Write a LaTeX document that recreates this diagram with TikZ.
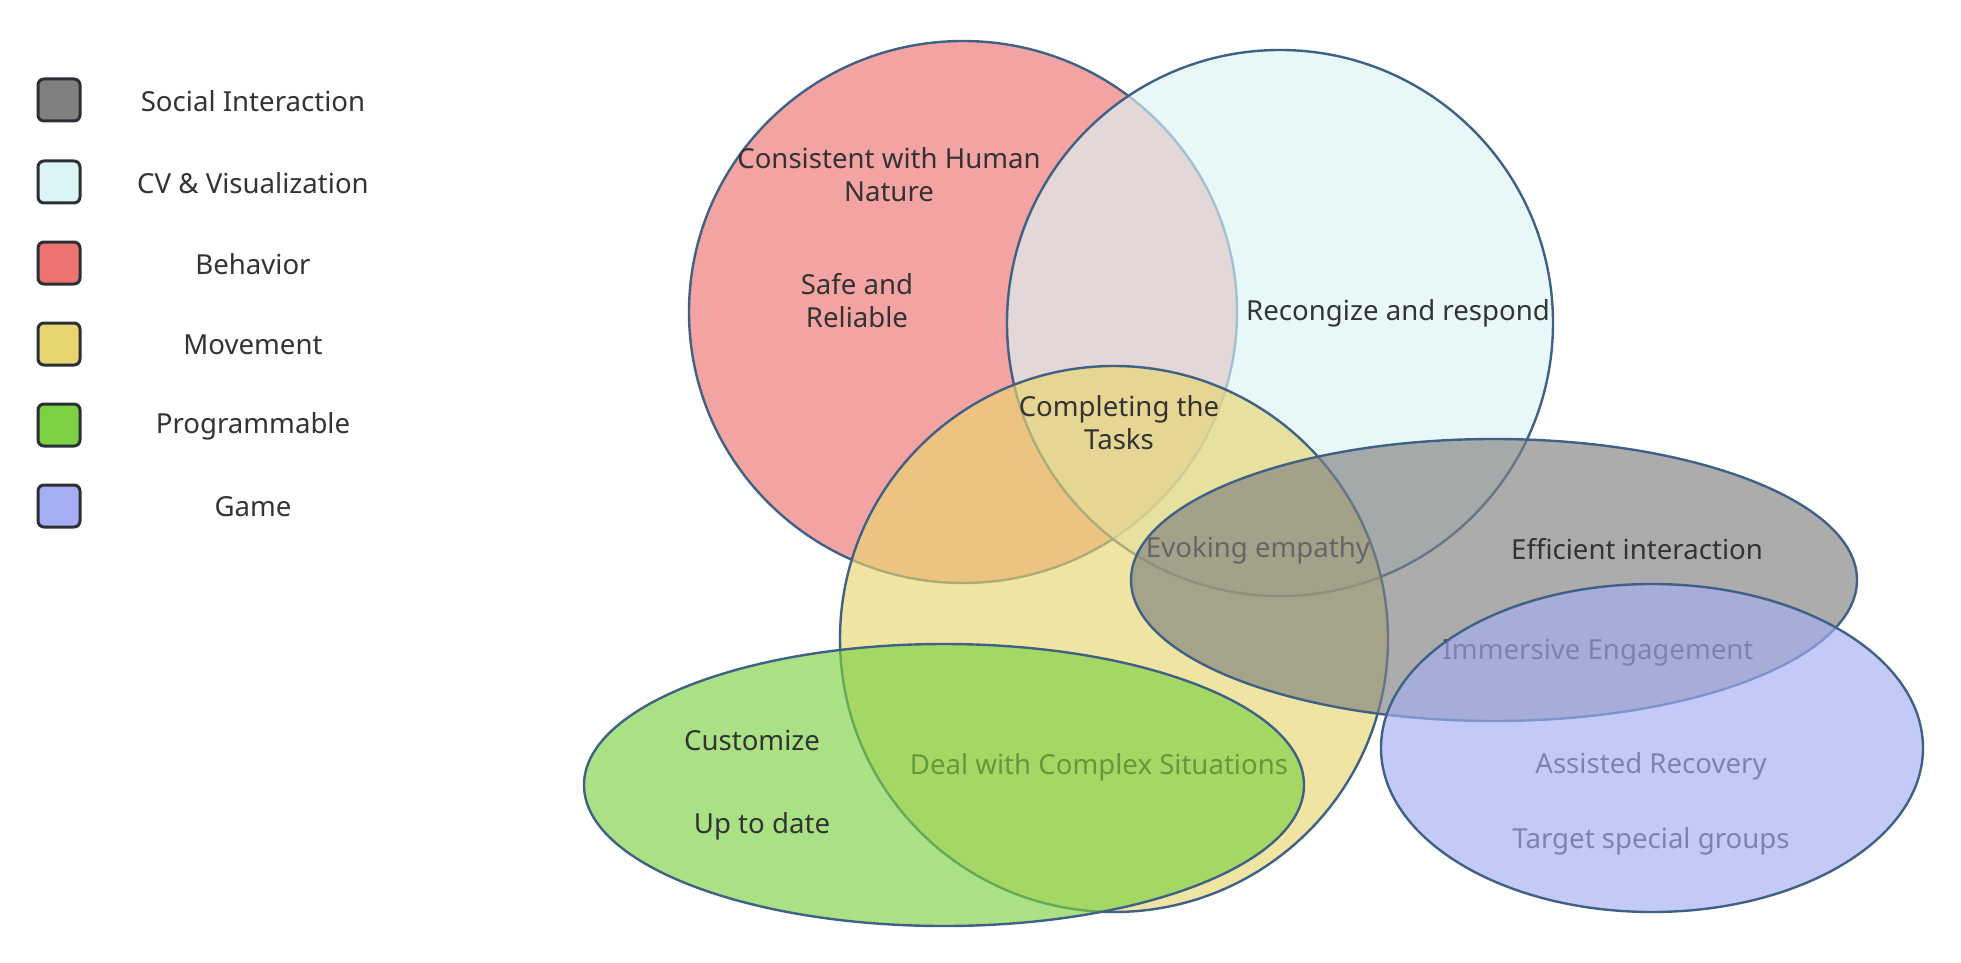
\documentclass[tikz,border=0pt]{standalone}
\usepackage{fontspec}
\setmainfont{Noto Sans}
\usetikzlibrary{shapes.geometric}
\definecolor{social}{HTML}{808080}
\definecolor{cvvis}{HTML}{DBF4F6}
\definecolor{behav}{HTML}{EC7370}
\definecolor{movem}{HTML}{E8D570}
\definecolor{progr}{HTML}{7CD143}
\definecolor{gamec}{HTML}{A5AEF2}
\definecolor{rim}{HTML}{3F6186}
\definecolor{keyrim}{HTML}{2A2F36}
\definecolor{ink}{HTML}{333333}
\begin{document}
\begin{tikzpicture}[x=0.5pt,y=-0.5pt,
	blob/.style={ellipse, draw=rim, line width=1.2pt, fill opacity=0.65, inner sep=0pt},
	key/.style={rectangle, rounded corners=3pt, draw=keyrim, line width=1.5pt, minimum size=21pt, inner sep=0pt},
	lbl/.style={text=ink, font=\fontsize{13.8}{16.5}\selectfont, align=center, inner sep=0pt}]
	\useasboundingbox (0,0) rectangle (1961,963);
	% legend
	\node (kSoc)  at (59, 100)	[key, fill = social]	{};
	\node (kCv)   at (59, 182)	[key, fill = cvvis]	{};
	\node (kBeh)  at (59, 263)	[key, fill = behav]	{};
	\node (kMov)  at (59, 344)	[key, fill = movem]	{};
	\node (kPro)  at (59, 425)	[key, fill = progr]	{};
	\node (kGam)  at (59, 506)	[key, fill = gamec]	{};
	\node (tSoc)  at (253, 101)	[lbl]	{Social Interaction};
	\node (tCv)   at (253, 183)	[lbl]	{CV \& Visualization};
	\node (tBeh)  at (253, 264)	[lbl]	{Behavior};
	\node (tMov)  at (253, 345)	[lbl]	{Movement};
	\node (tPro)  at (253, 426)	[lbl]	{Programmable};
	\node (tGam)  at (253, 507)	[lbl]	{Game};
	% sets
	\node (Beh) at (963, 312)	[blob, fill = behav, minimum width = 274pt, minimum height = 271pt]	{};
	\node (b1)  at (889, 175)	[lbl]	{Consistent with Human\\Nature};
	\node (b2)  at (857, 301)	[lbl]	{Safe and\\Reliable};
	\node (Cv)  at (1280, 323)	[blob, fill = cvvis, minimum width = 273pt, minimum height = 273pt]	{};
	\node (c1)  at (1398, 313)	[lbl]	{Recongize and respond};
	\node (Mov) at (1114, 639)	[blob, fill = movem, minimum width = 274pt, minimum height = 273pt]	{};
	\node (m1)  at (1119, 423)	[lbl]	{Completing the\\Tasks};
	\node (m2)  at (1258, 550)	[lbl]	{Evoking empathy};
	\node (m3)  at (1099, 767)	[lbl]	{Deal with Complex Situations};
	\node (Soc) at (1494, 580)	[blob, fill = social, minimum width = 363pt, minimum height = 141pt]	{};
	\node (s1)  at (1637, 549)	[lbl]	{Efficient interaction};
	\node (s2)  at (1598, 653)	[lbl]	{Immersive Engagement};
	\node (s3)  at (1651, 766)	[lbl]	{Assisted Recovery};
	\node (s4)  at (1651, 841)	[lbl]	{Target special groups};
	\node (Pro) at (944, 785)	[blob, fill = progr, minimum width = 360pt, minimum height = 141pt]	{};
	\node (p1)  at (752, 740)	[lbl]	{Customize};
	\node (p2)  at (762, 826)	[lbl]	{Up to date};
	\node (Gam) at (1652, 748)	[blob, fill = gamec, minimum width = 271pt, minimum height = 164pt]	{};
\end{tikzpicture}
\end{document}
